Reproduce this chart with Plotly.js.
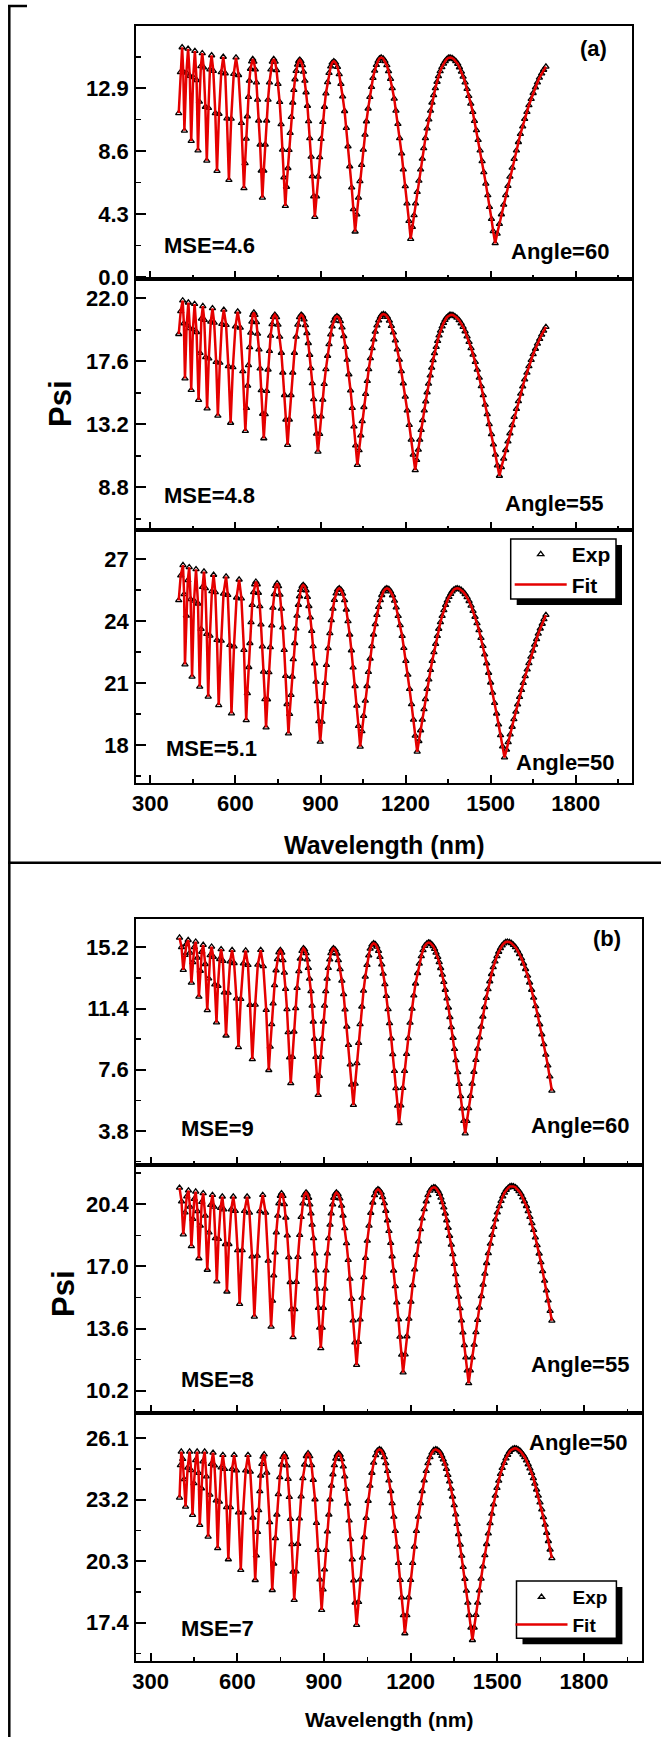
<!DOCTYPE html>
<html><head><meta charset="utf-8">
<script src="https://cdn.plot.ly/plotly-3.0.1.min.js"></script>
<style>html,body{margin:0;padding:0;background:#fff;} #chart{width:661px;height:1737px;}</style>
</head><body><div id="chart"></div>
<script>
// ---------- DATA (wavelength in nm, Psi in degrees); the fitted curve lies on the measured points ----------
const wlA60 = [400,406,412,416,420,427,433,439,444,451,457,463,468,473,478,483,488,494,499,505,510,516,522,529,535,542,550,557,564,570,577,585,594,602,611,621,630,634,638,642,646,649,653,657,661,665,670,674,678,682,687,691,695,700,705,710,715,720,725,730,735,740,745,750,756,761,766,771,776,780,785,789,793,797,802,806,810,814,819,823,827,831,836,840,845,849,854,858,862,867,871,876,880,886,891,897,902,908,914,919,925,930,936,941,947,953,960,966,972,978,985,991,997,1003,1010,1016,1022,1028,1034,1039,1045,1051,1057,1062,1068,1074,1080,1085,1091,1097,1103,1108,1114,1121,1127,1134,1140,1147,1153,1160,1166,1173,1179,1186,1192,1199,1205,1212,1218,1224,1230,1235,1241,1247,1253,1259,1264,1270,1276,1282,1288,1293,1299,1305,1311,1316,1322,1328,1334,1340,1345,1351,1357,1364,1370,1377,1384,1390,1397,1403,1410,1417,1423,1430,1437,1443,1450,1456,1463,1470,1476,1483,1490,1496,1503,1509,1516,1523,1531,1538,1546,1553,1561,1568,1576,1583,1591,1598,1605,1613,1620,1628,1635,1643,1650,1658,1665,1672,1680,1687,1695];
const psiA60 = [11.2,14.0,15.7,14.03,10.0,13.96,15.6,13.75,9.3,13.65,15.45,13.46,8.65,11.98,14.41,15.3,14.32,11.63,7.95,11.55,14.19,15.15,14.09,11.2,7.25,11.15,14.0,15.05,13.92,10.84,6.63,10.82,13.88,15.0,13.8,10.53,6.06,7.78,9.45,10.98,12.31,13.41,14.23,14.73,14.9,14.72,14.18,13.3,12.12,10.69,9.05,7.27,5.42,7.27,9.05,10.69,12.12,13.3,14.18,14.72,14.9,14.71,14.14,13.2,11.96,10.44,8.70,6.81,4.85,6.16,7.44,8.68,9.85,10.94,11.92,12.78,13.51,14.09,14.51,14.76,14.85,14.75,14.48,14.03,13.41,12.62,11.7,10.65,9.48,8.22,6.88,5.51,4.1,5.5,6.86,8.18,9.43,10.59,11.63,12.55,13.32,13.94,14.39,14.65,14.75,14.65,14.35,13.86,13.19,12.34,11.34,10.19,8.93,7.56,6.12,4.63,3.1,4.27,5.42,6.55,7.66,8.7,9.72,10.64,11.51,12.3,12.99,13.6,14.1,14.49,14.77,14.94,15.0,14.94,14.76,14.47,14.06,13.54,12.9,12.19,11.37,10.46,9.49,8.44,7.35,6.2,5.02,3.82,2.6,3.41,4.22,5.02,5.81,6.58,7.35,8.08,8.8,9.49,10.15,10.77,11.37,11.92,12.43,12.9,13.34,13.72,14.06,14.34,14.58,14.76,14.89,14.98,15.0,14.97,14.89,14.76,14.57,14.33,14.03,13.69,13.3,12.85,12.37,11.85,11.28,10.67,10.03,9.36,8.65,7.91,7.16,6.38,5.59,4.78,3.96,3.13,2.3,2.96,3.62,4.28,4.94,5.59,6.22,6.85,7.47,8.07,8.65,9.22,9.77,10.29,10.80,11.28,11.74,12.17,12.57,12.96,13.30,13.62,13.91,14.16,14.38];

const wlA55 = [400,407,414,418,422,428,434,439,444,450,456,463,470,475,480,485,490,495,500,506,513,519,525,532,538,545,552,559,567,575,583,591,600,608,617,626,635,639,643,646,650,654,658,661,665,669,674,678,683,687,691,696,700,705,710,715,720,724,729,734,739,745,750,756,762,767,773,778,784,790,796,802,808,814,820,826,832,837,842,847,852,857,862,866,871,876,881,886,891,897,902,908,913,919,925,930,936,941,947,952,958,964,970,976,982,988,994,1000,1006,1012,1018,1024,1030,1036,1042,1047,1053,1059,1065,1070,1076,1082,1088,1093,1099,1105,1111,1116,1122,1129,1136,1143,1150,1157,1164,1171,1178,1185,1192,1199,1206,1213,1220,1227,1234,1239,1245,1250,1255,1260,1266,1271,1276,1281,1287,1292,1297,1302,1308,1313,1318,1323,1329,1334,1339,1344,1350,1355,1360,1367,1374,1381,1389,1396,1403,1410,1417,1424,1431,1438,1446,1453,1460,1467,1474,1481,1488,1495,1503,1510,1517,1524,1531,1538,1546,1553,1561,1568,1576,1583,1591,1598,1606,1613,1620,1628,1635,1643,1650,1658,1665,1673,1680,1687,1695];
const psiA55 = [19.5,21.1,21.85,20.25,16.4,20.15,21.7,19.91,15.6,19.84,21.6,19.64,14.9,18.18,20.57,21.45,20.49,17.88,14.3,17.8,20.36,21.3,20.3,17.55,13.8,17.5,20.21,21.2,20.14,17.25,13.3,17.19,20.03,21.07,19.95,16.9,12.73,14.34,15.9,17.33,18.58,19.6,20.37,20.84,21.0,20.83,20.33,19.52,18.43,17.1,15.58,13.93,12.22,13.9,15.53,17.02,18.32,19.39,20.19,20.69,20.85,20.68,20.16,19.31,18.19,16.81,15.24,13.53,11.76,13.53,15.24,16.81,18.19,19.31,20.16,20.68,20.85,20.76,20.52,20.12,19.57,18.87,18.05,17.11,16.07,14.95,13.77,12.54,11.29,12.53,13.74,14.91,16.02,17.05,17.98,18.79,19.48,20.03,20.43,20.66,20.75,20.66,20.4,19.96,19.36,18.6,17.71,16.69,15.56,14.34,13.05,11.72,10.36,11.39,12.42,13.42,14.4,15.32,16.22,17.04,17.81,18.51,19.12,19.66,20.1,20.45,20.7,20.85,20.9,20.85,20.69,20.43,20.07,19.61,19.06,18.43,17.71,16.91,16.06,15.13,14.17,13.16,12.13,11.07,10.0,10.71,11.42,12.12,12.81,13.48,14.16,14.8,15.43,16.03,16.61,17.15,17.67,18.16,18.6,19.02,19.4,19.73,20.03,20.27,20.48,20.64,20.75,20.83,20.85,20.83,20.75,20.64,20.47,20.25,20.0,19.69,19.34,18.95,18.52,18.06,17.55,17.01,16.45,15.86,15.23,14.57,13.91,13.21,12.51,11.79,11.07,10.33,9.6,10.2,10.8,11.4,12.0,12.57,13.14,13.71,14.27,14.81,15.33,15.84,16.33,16.8,17.25,17.69,18.09,18.47,18.83,19.16,19.45,19.74,20.0];

const wlA50 = [400,407,415,419,422,427,432,437,442,447,454,461,468,474,479,484,489,494,499,504,510,517,523,529,535,541,550,558,567,573,580,586,595,604,613,621,630,638,642,647,651,655,659,664,668,672,677,681,686,690,695,699,704,708,713,718,723,728,732,737,742,747,752,757,762,767,772,777,782,787,791,796,800,804,809,813,817,822,826,830,835,839,844,849,854,859,864,869,874,879,884,889,894,899,905,910,916,921,927,933,938,944,949,955,960,966,972,978,985,991,997,1003,1009,1015,1022,1028,1034,1040,1046,1052,1058,1064,1069,1075,1081,1087,1093,1099,1105,1111,1116,1122,1128,1134,1141,1147,1154,1161,1167,1174,1181,1188,1194,1201,1208,1214,1221,1228,1234,1241,1247,1253,1259,1265,1270,1276,1282,1288,1294,1300,1306,1312,1317,1323,1329,1335,1341,1347,1353,1359,1364,1370,1376,1382,1389,1396,1403,1410,1417,1424,1431,1438,1445,1452,1459,1466,1473,1479,1486,1493,1500,1507,1514,1521,1528,1535,1542,1549,1556,1562,1569,1576,1582,1589,1595,1602,1609,1615,1622,1629,1635,1642,1649,1655,1662,1668,1675,1682,1688,1695];
const psiA50 = [25.0,26.2,26.7,25.29,21.9,24.25,25.97,26.6,25.05,21.3,24.98,26.5,24.84,20.82,23.61,25.64,26.39,25.58,23.37,20.34,23.29,25.44,26.23,25.39,23.08,19.93,23.04,25.32,26.15,25.26,22.84,19.53,22.77,25.13,26.0,25.09,22.6,19.2,20.51,21.77,22.93,23.94,24.77,25.39,25.77,25.9,25.77,25.36,24.71,23.83,22.77,21.55,20.22,18.85,20.21,21.52,22.73,23.78,24.64,25.29,25.69,25.82,25.68,25.27,24.59,23.69,22.6,21.34,19.98,18.56,19.5,20.42,21.31,22.15,22.93,23.64,24.25,24.78,25.19,25.5,25.68,25.74,25.67,25.48,25.16,24.72,24.17,23.52,22.78,21.95,21.06,20.12,19.15,18.16,19.13,20.08,21.0,21.87,22.68,23.41,24.04,24.59,25.02,25.33,25.51,25.58,25.51,25.32,25.0,24.55,23.99,23.34,22.58,21.75,20.85,19.9,18.92,17.92,18.67,19.41,20.14,20.85,21.53,22.18,22.78,23.34,23.84,24.29,24.68,25.0,25.25,25.43,25.54,25.58,25.54,25.43,25.24,24.98,24.65,24.24,23.79,23.27,22.69,22.07,21.4,20.71,19.97,19.22,18.45,17.68,18.19,18.71,19.22,19.73,20.22,20.71,21.17,21.63,22.07,22.49,22.89,23.27,23.62,23.94,24.24,24.52,24.77,24.98,25.16,25.31,25.43,25.51,25.56,25.58,25.56,25.51,25.42,25.3,25.15,24.96,24.74,24.48,24.2,23.89,23.55,23.18,22.79,22.38,21.95,21.49,21.02,20.53,20.03,19.52,18.99,18.47,17.93,17.4,17.77,18.14,18.51,18.88,19.25,19.61,19.96,20.32,20.66,21.0,21.33,21.65,21.96,22.27,22.56,22.85,23.12,23.38,23.63,23.86,24.08,24.29];

const wlB60 = [400,407,413,419,424,430,436,441,446,451,456,462,467,472,477,482,489,496,501,506,511,517,522,528,533,539,544,550,555,561,568,575,582,589,597,604,612,621,629,637,644,652,662,671,681,690,700,709,714,719,724,729,734,739,744,749,754,758,763,767,772,776,781,785,791,796,802,807,813,818,824,829,833,838,842,846,850,855,859,863,867,872,876,880,884,889,893,898,902,906,911,915,920,924,929,933,939,945,950,956,962,968,973,979,985,991,996,1002,1008,1014,1020,1025,1031,1037,1043,1049,1055,1060,1066,1072,1078,1083,1089,1094,1100,1105,1111,1116,1122,1127,1133,1138,1144,1149,1155,1160,1166,1173,1179,1186,1192,1198,1205,1211,1217,1224,1230,1237,1243,1249,1256,1262,1267,1273,1278,1283,1288,1294,1299,1304,1310,1315,1320,1326,1331,1336,1341,1347,1352,1357,1363,1368,1373,1378,1384,1389,1395,1401,1407,1413,1419,1426,1432,1438,1444,1450,1456,1462,1468,1474,1480,1486,1492,1499,1505,1511,1517,1523,1529,1535,1542,1549,1556,1563,1570,1577,1584,1591,1598,1605,1612,1619,1626,1633,1640,1647,1654,1661,1668,1675,1682,1689];
const psiB60 = [15.8,15.21,13.8,14.73,15.4,15.65,14.87,13.0,14.28,15.21,15.55,14.55,12.13,13.74,14.92,15.35,14.16,11.3,13.27,14.71,15.24,14.61,12.89,10.53,12.81,14.47,15.08,14.36,12.4,9.72,12.38,14.32,15.03,14.22,12.02,9.0,12.0,14.2,15.0,14.1,11.63,8.25,11.64,14.12,15.03,14.03,11.31,7.58,9.03,10.43,11.72,12.85,13.77,14.46,14.89,15.03,14.87,14.4,13.63,12.61,11.36,9.93,8.37,6.76,8.39,9.97,11.42,12.68,13.72,14.5,14.98,15.14,15.06,14.83,14.45,13.92,13.25,12.47,11.58,10.59,9.52,8.39,7.22,6.03,7.22,8.39,9.52,10.59,11.58,12.47,13.25,13.92,14.45,14.83,15.06,15.14,15.05,14.81,14.4,13.84,13.13,12.29,11.34,10.28,9.14,7.93,6.68,5.41,6.73,8.01,9.26,10.43,11.52,12.51,13.37,14.1,14.69,15.11,15.36,15.45,15.39,15.24,14.97,14.6,14.13,13.56,12.91,12.18,11.36,10.49,9.54,8.56,7.52,6.46,5.37,4.28,5.38,6.47,7.53,8.58,9.56,10.52,11.39,12.21,12.95,13.6,14.18,14.65,15.02,15.29,15.44,15.5,15.48,15.39,15.27,15.1,14.87,14.6,14.28,13.91,13.5,13.05,12.56,12.03,11.46,10.87,10.24,9.58,8.89,8.19,7.45,6.72,5.96,5.2,4.42,3.65,4.42,5.21,5.97,6.73,7.47,8.21,8.91,9.6,10.27,10.9,11.49,12.06,12.6,13.09,13.54,13.96,14.32,14.65,14.92,15.15,15.32,15.44,15.53,15.55,15.53,15.46,15.35,15.21,15.01,14.78,14.51,14.19,13.85,13.44,13.01,12.56,12.07,11.54,10.99,10.42,9.8,9.18,8.53,7.87,7.18,6.3];

const wlB55 = [400,407,413,419,425,431,436,441,446,451,456,462,467,472,477,482,489,496,502,508,514,519,524,529,535,542,548,553,559,564,571,579,586,593,601,608,617,625,634,642,651,659,669,678,688,698,707,717,722,726,731,735,740,744,749,753,758,763,768,773,778,783,788,793,799,804,810,816,821,827,832,838,842,847,851,855,859,864,868,872,876,881,885,889,894,898,903,907,912,916,921,925,930,934,939,943,949,955,961,966,972,978,984,990,996,1001,1007,1013,1019,1025,1032,1038,1044,1050,1056,1062,1069,1075,1081,1087,1092,1098,1103,1109,1114,1120,1125,1131,1136,1141,1147,1152,1158,1163,1169,1174,1181,1187,1194,1201,1207,1214,1220,1227,1234,1240,1247,1254,1260,1267,1273,1280,1285,1290,1295,1300,1305,1310,1315,1320,1325,1330,1335,1341,1346,1351,1356,1361,1366,1371,1376,1381,1386,1391,1396,1401,1407,1413,1420,1426,1432,1438,1445,1451,1457,1463,1469,1476,1482,1488,1494,1500,1507,1513,1519,1525,1531,1538,1544,1550,1556,1563,1569,1575,1582,1588,1594,1601,1607,1613,1620,1626,1632,1638,1645,1651,1657,1664,1670,1676,1683,1689];
const psiB55 = [21.3,20.55,18.75,19.95,20.83,21.15,20.26,18.1,19.6,20.69,21.09,20.02,17.44,19.22,20.52,21.0,19.77,16.81,18.86,20.36,20.91,20.27,18.54,16.17,18.5,20.2,20.82,20.12,18.22,15.62,18.22,20.12,20.82,20.03,17.88,14.94,17.88,20.03,20.82,19.94,17.54,14.25,17.58,20.02,20.91,19.94,17.31,13.7,15.12,16.5,17.76,18.86,19.77,20.45,20.86,21.0,20.85,20.4,19.67,18.69,17.5,16.14,14.66,13.12,14.66,16.15,17.52,18.72,19.7,20.44,20.89,21.04,20.96,20.75,20.39,19.9,19.28,18.54,17.71,16.78,15.78,14.73,13.64,12.52,13.64,14.73,15.78,16.78,17.71,18.54,19.28,19.9,20.39,20.75,20.96,21.04,20.95,20.72,20.32,19.78,19.09,18.27,17.35,16.32,15.22,14.04,12.84,11.6,12.86,14.09,15.28,16.41,17.46,18.4,19.23,19.93,20.49,20.89,21.13,21.22,21.17,21.03,20.79,20.46,20.04,19.52,18.94,18.28,17.55,16.77,15.91,15.03,14.1,13.15,12.17,11.19,12.18,13.17,14.13,15.07,15.97,16.83,17.62,18.36,19.03,19.62,20.13,20.56,20.89,21.14,21.28,21.33,21.31,21.23,21.13,20.97,20.76,20.51,20.22,19.89,19.52,19.11,18.67,18.19,17.67,17.13,16.57,15.97,15.34,14.71,14.04,13.38,12.69,12.01,11.3,10.6,11.3,12.01,12.71,13.4,14.07,14.74,15.37,16.0,16.6,17.18,17.72,18.24,18.72,19.16,19.57,19.95,20.29,20.58,20.83,21.03,21.19,21.3,21.38,21.4,21.38,21.33,21.24,21.12,20.96,20.77,20.56,20.3,20.02,19.7,19.36,18.99,18.58,18.16,17.7,17.23,16.73,16.21,15.68,15.13,14.56,14.03];

const wlB50 = [400,403,406,411,416,421,428,435,440,445,450,456,461,466,470,476,481,487,493,499,505,510,516,521,527,532,538,544,550,556,563,569,576,582,589,597,604,612,620,629,637,645,654,662,666,670,674,678,681,685,689,693,702,712,721,726,732,737,742,747,753,758,763,767,772,776,780,784,789,793,797,803,809,815,821,827,833,839,845,851,857,863,869,874,880,886,892,897,902,907,912,917,921,926,931,936,941,946,951,956,961,967,972,977,982,987,992,998,1003,1008,1013,1020,1026,1033,1039,1046,1053,1059,1066,1072,1079,1085,1092,1098,1103,1109,1114,1120,1125,1131,1136,1142,1147,1153,1158,1164,1169,1175,1180,1187,1193,1200,1207,1213,1220,1227,1234,1240,1247,1254,1260,1267,1274,1280,1287,1292,1298,1303,1308,1313,1319,1324,1329,1335,1340,1345,1351,1356,1361,1366,1372,1377,1382,1388,1393,1398,1403,1409,1414,1420,1426,1432,1438,1444,1450,1457,1463,1469,1475,1481,1487,1493,1499,1505,1511,1517,1524,1530,1536,1542,1548,1554,1560,1566,1572,1578,1583,1589,1595,1601,1607,1613,1619,1625,1630,1636,1642,1648,1654,1660,1666,1671,1677,1683,1689];
const psiB50 = [23.3,24.83,25.47,25.12,24.17,22.87,24.71,25.47,24.59,22.48,23.98,25.07,25.47,24.46,22.01,23.74,25.01,25.47,24.3,21.46,23.44,24.89,25.42,24.82,23.17,20.91,23.11,24.72,25.31,24.65,22.85,20.39,22.85,24.65,25.31,24.58,22.6,19.89,22.6,24.58,25.31,24.52,22.36,19.41,20.57,21.68,22.71,23.6,24.34,24.89,25.23,25.34,24.48,22.14,18.94,20.19,21.39,22.5,23.46,24.26,24.85,25.22,25.34,25.21,24.82,24.18,23.33,22.29,21.1,19.81,18.47,19.82,21.12,22.32,23.36,24.22,24.86,25.26,25.39,25.25,24.83,24.14,23.22,22.11,20.83,19.44,18.0,18.97,19.91,20.83,21.7,22.5,23.22,23.86,24.4,24.83,25.14,25.32,25.39,25.32,25.11,24.77,24.3,23.71,23.02,22.22,21.34,20.39,19.39,18.35,17.29,18.38,19.44,20.47,21.44,22.34,23.15,23.86,24.47,24.95,25.3,25.51,25.58,25.54,25.42,25.21,24.92,24.56,24.11,23.61,23.04,22.4,21.73,20.99,20.22,19.42,18.59,17.75,16.9,17.75,18.59,19.42,20.22,20.99,21.73,22.4,23.04,23.61,24.11,24.56,24.92,25.21,25.42,25.54,25.58,25.56,25.5,25.41,25.27,25.1,24.9,24.65,24.37,24.06,23.72,23.35,22.94,22.51,22.06,21.58,21.08,20.56,20.03,19.47,18.91,18.34,17.76,17.17,16.58,17.17,17.77,18.34,18.92,19.48,20.05,20.58,21.11,21.61,22.09,22.54,22.98,23.39,23.76,24.1,24.42,24.7,24.94,25.15,25.32,25.46,25.55,25.61,25.63,25.62,25.58,25.52,25.44,25.33,25.21,25.05,24.87,24.68,24.46,24.22,23.96,23.68,23.39,23.07,22.74,22.38,22.02,21.64,21.25,20.85,20.44];

const mseLabels   = ['MSE=4.6','MSE=4.8','MSE=5.1','MSE=9','MSE=8','MSE=7'];
const angleLabels = ['Angle=60','Angle=55','Angle=50','Angle=60','Angle=55','Angle=50'];
const panelTags   = ['(a)','(b)'];
const yTickStart  = [0, 8.8, 18, 3.8, 10.2, 17.4];
const yTickStep   = [4.3, 4.4, 3, 3.8, 3.4, 2.9];
const xTickStart = 300, xTickStep = 300;
const seriesNames = ['Exp','Fit'];

// ---------- LAYOUT (pixel geometry of the page) ----------
const W = 661, H = 1737;
const px = v => v / W;
const py = v => 1 - v / H;
const FONT = 'Arial, "Liberation Sans", sans-serif';
const RED = '#e50000';

const panels = [
  {x: wlA60, y: psiA60, xd:[136.2,632.4], yd:[26,278.7],     yr:[-0.12,17.16], fmt:'.1f'},
  {x: wlA55, y: psiA55, xd:[136.2,632.4], yd:[278.7,530],    yr:[5.82,23.37],  fmt:'.1f'},
  {x: wlA50, y: psiA50, xd:[136.2,632.4], yd:[530,782.7],    yr:[16.18,28.40], fmt:'d'},
  {x: wlB60, y: psiB60, xd:[136.2,641.7], yd:[919,1165],     yr:[1.69,16.96],  fmt:'.1f'},
  {x: wlB55, y: psiB55, xd:[136.2,641.7], yd:[1165,1413.3],  yr:[8.96,22.55],  fmt:'.1f'},
  {x: wlB50, y: psiB50, xd:[136.2,641.7], yd:[1413.3,1660.7],yr:[15.61,27.28], fmt:'.1f'}
];
const textPos = [
  {mse:[162,245],  ang:[611,252]},
  {mse:[162,495],  ang:[605,503]},
  {mse:[163.6,748],ang:[616,763]},
  {mse:[179,1128], ang:[631,1125]},
  {mse:[179,1379], ang:[631,1364]},
  {mse:[179,1628], ang:[629,1442]}
];

const tickFont = {family: FONT, size: 22, color: '#000', weight: 'bold'};
const layout = {
  width: W, height: H,
  margin: {l:0, r:0, t:0, b:0},
  paper_bgcolor: '#fff', plot_bgcolor: '#fff',
  showlegend: true,
  font: {family: FONT, color: '#000'},
  annotations: [], shapes: []
};
const traces = [];

panels.forEach((p, i) => {
  const n = i === 0 ? '' : String(i + 1);
  const xa = 'xaxis' + n, ya = 'yaxis' + n;
  const bottom = (i === 2 || i === 5);
  const len = Math.min(p.x.length, p.y.length);
  const xs = p.x.slice(0, len), ys = p.y.slice(0, len);
  layout[xa] = {
    domain: [px(p.xd[0]), px(p.xd[1])], anchor: 'y' + n,
    range: [250, 2000], tick0: xTickStart, dtick: xTickStep,
    ticks: 'inside', ticklen: 8, tickwidth: 2, tickcolor: '#000',
    minor: {ticks: 'inside', ticklen: 4, tickwidth: 1.5, tickcolor: '#000', tick0: xTickStart, dtick: xTickStep / 2, showgrid: false},
    showline: true, linewidth: 2, linecolor: '#000', mirror: true,
    showgrid: false, zeroline: false, showticklabels: bottom,
    tickfont: tickFont, ticklabelstandoff: 0
  };
  layout[ya] = {
    domain: [py(p.yd[1]), py(p.yd[0])], anchor: 'x' + n,
    range: p.yr, tick0: yTickStart[i], dtick: yTickStep[i], tickformat: p.fmt,
    ticks: 'inside', ticklen: 10, tickwidth: 2, tickcolor: '#000',
    minor: {ticks: 'inside', ticklen: 5, tickwidth: 1.5, tickcolor: '#000', tick0: yTickStart[i], dtick: yTickStep[i] / 2, showgrid: false},
    showline: true, linewidth: 2, linecolor: '#000', mirror: true,
    showgrid: false, zeroline: false, tickfont: tickFont, ticklabelstandoff: 1
  };
  const legendId = i === 2 ? 'legend' : (i === 5 ? 'legend2' : undefined);
  traces.push({
    type: 'scatter', mode: 'markers', name: seriesNames[0], x: xs, y: ys,
    xaxis: 'x' + n, yaxis: 'y' + n,
    marker: {symbol: 'triangle-up-open', size: 5.5, color: '#000', line: {width: 1.3, color: '#000'}},
    showlegend: !!legendId, legend: legendId
  });
  traces.push({
    type: 'scatter', mode: 'lines', name: seriesNames[1], x: xs, y: ys,
    xaxis: 'x' + n, yaxis: 'y' + n,
    line: {color: RED, width: 2.5},
    showlegend: !!legendId, legend: legendId
  });
  const t = textPos[i];
  const af = {family: FONT, size: 22, color: '#000', weight: 'bold'};
  layout.annotations.push({xref:'paper', yref:'paper', x: px(t.mse[0]), y: py(t.mse[1]), xanchor:'left', yanchor:'middle', text: mseLabels[i], showarrow:false, font: af});
  layout.annotations.push({xref:'paper', yref:'paper', x: px(t.ang[0]), y: py(t.ang[1]), xanchor:'right', yanchor:'middle', text: angleLabels[i], showarrow:false, font: af});
});

const bigFont = s => ({family: FONT, size: s, color: '#000', weight: 'bold'});
layout.annotations.push(
  {xref:'paper', yref:'paper', x: px(593.6), y: py(48.3), xanchor:'center', yanchor:'middle', text: panelTags[0], showarrow:false, font: bigFont(22)},
  {xref:'paper', yref:'paper', x: px(607), y: py(938), xanchor:'center', yanchor:'middle', text: panelTags[1], showarrow:false, font: bigFont(22)},
  {xref:'paper', yref:'paper', x: px(60), y: py(404), xanchor:'center', yanchor:'middle', text: 'Psi', textangle: -90, showarrow:false, font: bigFont(31)},
  {xref:'paper', yref:'paper', x: px(63), y: py(1294), xanchor:'center', yanchor:'middle', text: 'Psi', textangle: -90, showarrow:false, font: bigFont(31)},
  {xref:'paper', yref:'paper', x: px(384), y: py(845), xanchor:'center', yanchor:'middle', text: 'Wavelength (nm)', showarrow:false, font: bigFont(25)},
  {xref:'paper', yref:'paper', x: px(389), y: py(1719), xanchor:'center', yanchor:'middle', text: 'Wavelength (nm)', showarrow:false, font: bigFont(21)}
);

// legends: transparent, drawn over a boxed panel with a drop shadow (shapes)
const legendCommon = {
  xanchor: 'left', yanchor: 'top', bgcolor: 'rgba(0,0,0,0)', borderwidth: 0, tracegroupgap: 0, itemwidth: 52
};
layout.legend  = Object.assign({x: px(509.7), y: py(534),
  font: {family: FONT, size: 21, color: '#000', weight: 'bold'}}, legendCommon);
layout.legend2 = Object.assign({x: px(510.5), y: py(1578),
  font: {family: FONT, size: 19, color: '#000', weight: 'bold'}}, legendCommon);

const legendBoxes = [
  {x0: 510.7, x1: 616, y0: 539, y1: 599},
  {x0: 516.5, x1: 616.4, y0: 1581, y1: 1638.3}
];
legendBoxes.forEach(b => {
  layout.shapes.push({type:'rect', xref:'paper', yref:'paper', x0: px(b.x0 + 6), x1: px(b.x1 + 6), y0: py(b.y1 + 6), y1: py(b.y0 + 6), fillcolor:'#000', line:{width:0}, layer:'above'});
  layout.shapes.push({type:'rect', xref:'paper', yref:'paper', x0: px(b.x0), x1: px(b.x1), y0: py(b.y1), y1: py(b.y0), fillcolor:'#fff', line:{color:'#000', width:1.5}, layer:'above'});
});
// page rules (table borders)
layout.shapes.push(
  {type:'line', xref:'paper', yref:'paper', x0: px(9.3), x1: px(9.3), y0: py(6), y1: 0, line:{color:'#000', width:2.5}},
  {type:'line', xref:'paper', yref:'paper', x0: px(8), x1: px(27), y0: py(6), y1: py(6), line:{color:'#000', width:2.5}},
  {type:'line', xref:'paper', yref:'paper', x0: px(8), x1: 1, y0: py(862.7), y1: py(862.7), line:{color:'#000', width:2.5}}
);

Plotly.newPlot('chart', traces, layout, {staticPlot: true, displayModeBar: false});
</script>
</body></html>
